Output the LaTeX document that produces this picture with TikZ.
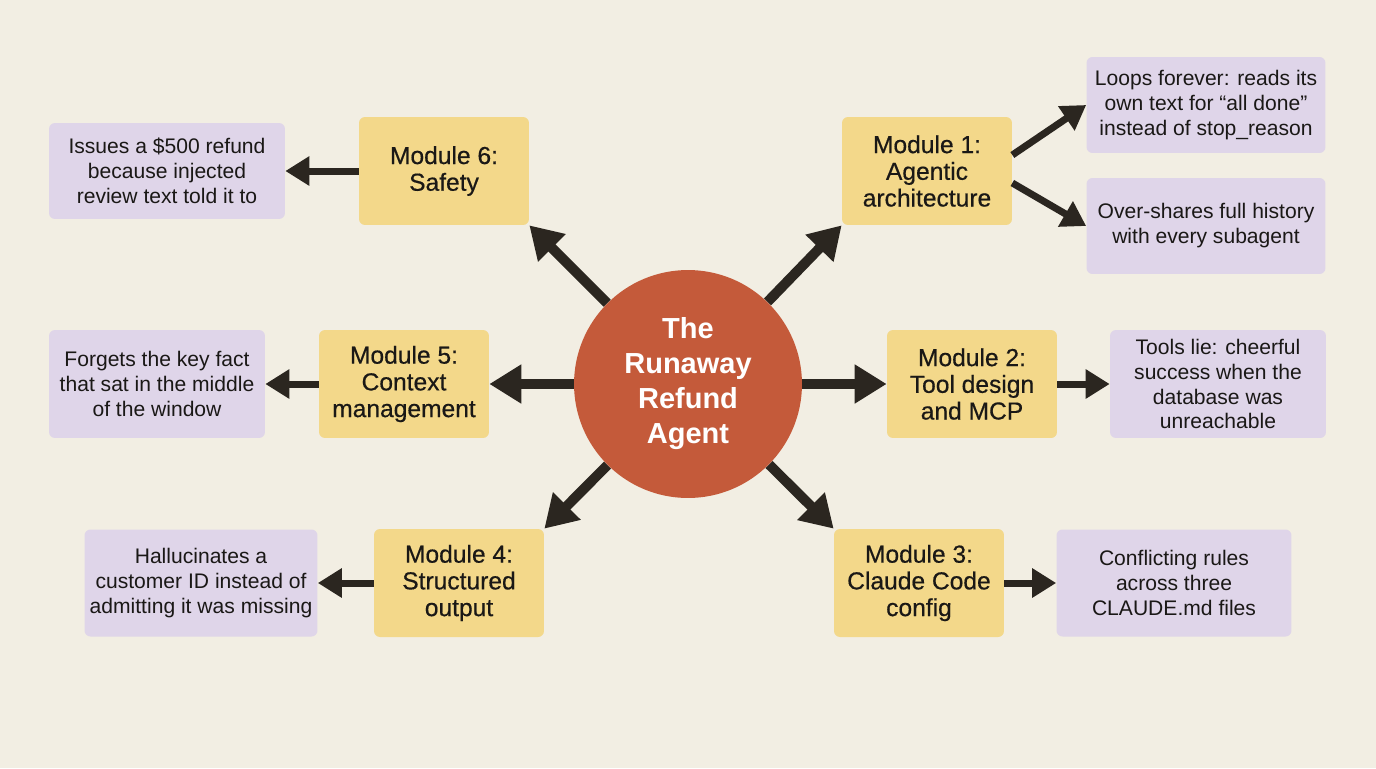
\documentclass[tikz,border=0pt]{standalone}
\usepackage{fontspec}
\setmainfont{Liberation Sans}
\newfontfamily\modfont{Liberation Sans}[FakeBold=0.5]
\usepackage{tikz}
\usetikzlibrary{arrows.meta}
\definecolor{bgcream}{RGB}{242,238,227}
\definecolor{modyellow}{RGB}{243,216,138}
\definecolor{notepurple}{RGB}{223,213,233}
\definecolor{hubred}{RGB}{196,90,58}
\definecolor{arrowdark}{RGB}{43,38,32}
\definecolor{textdark}{RGB}{26,24,22}

\begin{document}
\begin{tikzpicture}[
  x=0.02cm,y=-0.02cm,
  module/.style={fill=modyellow,rounded corners=3.4pt,minimum width=3.4cm,minimum height=2.16cm,inner sep=0pt,align=center,text=textdark,font=\modfont\fontsize{14}{15.2}\selectfont},
  note/.style={fill=notepurple,rounded corners=3.4pt,inner sep=0pt,align=center,text=textdark,font=\fontsize{12}{14.2}\selectfont},
  hubcircle/.style={circle,fill=hubred,minimum size=4.56cm,inner sep=0pt,align=center,text=white,font=\bfseries\fontsize{16.5}{19.9}\selectfont},
  bigarr/.style={-{Triangle[length=0.64cm,width=0.74cm]},line width=0.2cm,color=arrowdark},
  arr/.style={-{Triangle[length=0.48cm,width=0.56cm]},line width=0.14cm,color=arrowdark},
]

% 背景
\fill[bgcream] (0,0) rectangle (1376,768);
\useasboundingbox (0,0) rectangle (1376,768);

% 中心
\node[hubcircle] (hub) at (688,384) {The\\Runaway\\Refund\\Agent};

% 模块
\node[module] (m1) at (927,171) {Module 1:\\Agentic\\architecture};
\node[module] (m2) at (972,384) {Module 2:\\Tool design\\and MCP};
\node[module] (m3) at (919,583) {Module 3:\\Claude Code\\config};
\node[module] (m4) at (459,583) {Module 4:\\Structured\\output};
\node[module] (m5) at (404,384) {Module 5:\\Context\\management};
\node[module] (m6) at (444,171) {Module 6:\\Safety};

% 失败表现
\node[note,minimum width=4.78cm,minimum height=1.92cm] (p1a) at (1206,105) {Loops forever: reads its\\own text for “all done”\\instead of stop\_reason};
\node[note,minimum width=4.78cm,minimum height=1.92cm] (p1b) at (1206,226) {Over-shares full history\\with every subagent};
\node[note,minimum width=4.32cm,minimum height=2.16cm] (p2) at (1218,384) {Tools lie: cheerful\\success when the\\database was\\unreachable};
\node[note,minimum width=4.70cm,minimum height=2.14cm] (p3) at (1174,583) {Conflicting rules\\across three\\CLAUDE.md files};
\node[note,minimum width=4.66cm,minimum height=2.14cm] (p4) at (201,583) {Hallucinates a\\customer ID instead of\\admitting it was missing};
\node[note,minimum width=4.32cm,minimum height=2.16cm] (p5) at (157,384) {Forgets the key fact\\that sat in the middle\\of the window};
\node[note,minimum width=4.72cm,minimum height=1.92cm] (p6) at (167,171) {Issues a \$500 refund\\because injected\\review text told it to};

% 箭头
\draw[bigarr] (hub) -- (m1.south west);
\draw[bigarr] (hub) -- (m2.west);
\draw[bigarr] (hub) -- (m3.north west);
\draw[bigarr] (hub) -- (m4.north east);
\draw[bigarr] (hub) -- (m5.east);
\draw[bigarr] (hub) -- (m6.south east);

\draw[arr] ([yshift=0.32cm]m1.east) -- (p1a.west);
\draw[arr] ([yshift=-0.24cm]m1.east) -- (p1b.west);
\draw[arr] (m2.east) -- (p2.west);
\draw[arr] (m3.east) -- (p3.west);
\draw[arr] (m4.west) -- (p4.east);
\draw[arr] (m5.west) -- (p5.east);
\draw[arr] (m6.west) -- (p6.east);

\end{tikzpicture}
\end{document}
